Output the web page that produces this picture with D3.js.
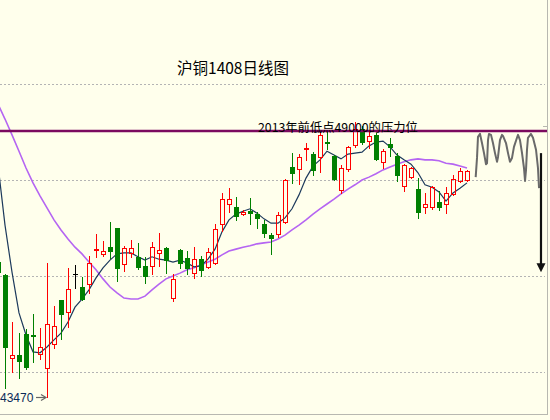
<!DOCTYPE html>
<html><head><meta charset="utf-8">
<script src="https://cdn.jsdelivr.net/npm/d3@7"></script>
<style>html,body{margin:0;padding:0;background:#ffffec;}svg{display:block;}</style>
</head><body><svg id="c" width="550" height="420"></svg>
<script>
const title = "沪铜1408日线图";
const noteText = "2013年前低点49000的压力位";
const lowLabel = "43470";
const resistance = 49000;
const lowPrice = 43470;
const gridValues = [50000, 48000, 46000, 44000];
// candle index (first one partially off the left edge)
const idx = d3.range(-1, 67);
const open  = [46290,46020,44290,44350,44790,44780,44380,44080,44580,45500,45250,46040,45770,45830,46540,46460,46600,47000,46250,46480,46400,46210,46210,46480,46580,45540,46540,46380,46060,46350,46190,46270,47080,47500,47440,47290,47350,47290,47080,46850,46880,47130,48270,48230,48650,48540,48480,48790,48500,47790,48230,48730,49060,48810,48940,48380,48750,48500,47880,48060,47810,47440,47440,47540,47500,47710,47980,48000];
const high  = [46380,46040,45040,44810,44900,45210,44920,46270,45380,45500,46170,46230,45980,46420,46880,46730,47130,47000,46630,46750,46690,46400,46710,46900,46600,46040,46560,46520,46600,46420,46580,47080,47730,47830,47650,47380,47630,47330,47170,46900,47330,48020,48560,48540,48770,48580,49000,49020,48520,48310,48710,49210,49130,49000,48980,48650,48880,48560,48330,48270,48040,47730,47880,47770,47850,48100,48250,48210];
const low   = [46000,43670,44000,43880,44060,44210,44270,43470,44500,44690,44940,45750,45500,45650,46400,46420,46380,45900,46100,46400,46150,45850,46040,46210,46060,45480,46170,46040,45960,46000,46170,46250,46940,47330,47170,47270,47080,47000,46810,46460,46810,47100,47940,47920,48420,48100,48170,48650,48000,47730,48190,48690,48750,48670,48420,48250,48500,47980,47770,48040,47210,47310,47400,47380,47310,47690,47960,47980];
const close = [46080,44520,44350,44230,44100,44760,44520,45000,44960,45210,45730,46040,45520,46270,46560,46520,46520,46170,46580,46580,46190,46000,46600,46540,46330,45940,46270,46170,46350,46130,46500,46980,47600,47600,47250,47330,47310,47210,46900,46790,47270,48000,48150,48480,48670,48210,48940,48770,48020,48250,48690,49060,48790,48920,48440,48600,48690,48100,48310,48250,47330,47500,47850,47440,47730,48020,48190,48190];
// short moving average (dark line) and long moving average (violet line)
const maShort = [48310,47060,46080,45230,44770,44420,44400,44520,44670,44810,45040,45350,45520,45710,45960,46170,46330,46460,46480,46480,46400,46330,46400,46350,46330,46290,46330,46270,46190,46210,46350,46560,46920,47170,47290,47350,47400,47310,47190,47100,47100,47210,47400,47690,48040,48290,48420,48600,48520,48440,48540,48560,48580,48710,48790,48810,48690,48520,48420,48330,48150,47900,47850,47750,47560,47730,47830,47940];
const maLong = [49580,49270,48940,48600,48250,47940,47670,47420,47170,46960,46770,46600,46460,46290,46130,45940,45770,45650,45540,45520,45520,45580,45710,45830,45940,46000,46060,46130,46170,46230,46290,46350,46440,46520,46560,46600,46630,46670,46690,46710,46770,46850,46960,47060,47170,47290,47400,47500,47600,47710,47810,47900,48000,48060,48130,48210,48270,48330,48380,48420,48440,48420,48420,48400,48350,48330,48290,48250];
// hand-drawn forecast squiggle (candle index, price)
const sqI = [67.24,67.43,67.57,67.86,68.14,68.43,68.71,68.86,69.0,69.14,69.43,69.71,70.0,70.29,70.43,70.71,71.0,71.14,71.57,71.86,72.14,72.43,72.71,73.14,73.29,73.57,73.86,74.14,74.29,74.43,74.57,74.71,75.14,75.43,75.86,76.14,76.29];
const sqP = [48060,48460,48900,48960,48770,48560,48330,48350,48830,48960,48940,48770,48560,48380,48480,48830,48940,48920,48770,48560,48380,48460,48690,48880,48940,48830,48560,48250,47980,48210,48630,48880,48960,48880,48630,48250,47830];
const arrowI = 76.57, arrowFrom = 48560, arrowTo = 46080;

const svg = d3.select("#c");
const W = 550, H = 420;
svg.append("rect").attr("width", W).attr("height", H).attr("fill", "#ffffec");

const x = d3.scaleLinear().domain([-1, 66]).range([-2, 467]);
const y = d3.scaleLinear().domain([44000, 50000]).range([372, 84]);
const px = v => Math.round(x(v));
const py = v => Math.round(y(v));

svg.append("defs").append("clipPath").attr("id", "plot")
  .append("rect").attr("x", 0).attr("y", 0).attr("width", 547).attr("height", 414);

// frame
svg.append("line").attr("x1", 0).attr("x2", 547.5).attr("y1", 414.5).attr("y2", 414.5).attr("stroke", "#b8b8b0");
svg.append("line").attr("x1", 547.5).attr("x2", 547.5).attr("y1", 0).attr("y2", 415).attr("stroke", "#b8b8b0");
svg.append("line").attr("x1", 543).attr("x2", 548).attr("y1", 126.5).attr("y2", 126.5).attr("stroke", "#b8b8b0");

// grid
svg.append("g").selectAll("line").data(gridValues).join("line")
  .attr("x1", 0).attr("x2", 545)
  .attr("y1", d => py(d) + 0.5).attr("y2", d => py(d) + 0.5)
  .attr("stroke", "#b4b4b4").attr("stroke-dasharray", "2,2");

// title
svg.append("text").attr("x", 233).attr("y", 74).attr("text-anchor", "middle")
  .attr("font-family", "'Noto Sans CJK SC', sans-serif").attr("font-size", 15.5)
  .attr("fill", "#000").text(title);

const g = svg.append("g").attr("clip-path", "url(#plot)");

// moving averages
const lineGen = d3.line().x((d, i) => x(idx[i])).y(d => y(d));
g.append("path").datum(maLong).attr("d", lineGen).attr("fill", "none")
  .attr("stroke", "#b565f2").attr("stroke-width", 1.6);
g.append("path").datum(maShort).attr("d", lineGen).attr("fill", "none")
  .attr("stroke", "#1d3a5c").attr("stroke-width", 1.2);

// candles
const candles = idx.map((d, i) => ({i: d, o: open[i], h: high[i], l: low[i], c: close[i]}));
const cg = g.append("g").selectAll("g").data(candles).join("g");
cg.each(function(d) {
  const s = d3.select(this);
  const cx = px(d.i);
  const top = py(Math.max(d.o, d.c)), bot = py(Math.min(d.o, d.c));
  const hi = py(d.h), lo = py(d.l);
  if (d.c > d.o) {
    const col = "#ff0000";
    if (hi < top) s.append("line").attr("x1", cx + 0.5).attr("x2", cx + 0.5).attr("y1", hi).attr("y2", top).attr("stroke", col);
    if (lo > bot) s.append("line").attr("x1", cx + 0.5).attr("x2", cx + 0.5).attr("y1", bot).attr("y2", lo + 1).attr("stroke", col);
    s.append("rect").attr("x", cx - 1.5).attr("y", top + 0.5).attr("width", 4).attr("height", Math.max(1, bot - top))
      .attr("fill", "none").attr("stroke", col).attr("stroke-width", 1);
  } else {
    const col = d.c < d.o ? "#008000" : "#000000";
    s.append("line").attr("x1", cx + 0.5).attr("x2", cx + 0.5).attr("y1", hi).attr("y2", lo + 1).attr("stroke", col);
    s.append("rect").attr("x", cx - 2).attr("y", top).attr("width", 5).attr("height", Math.max(1, bot - top + 1))
      .attr("fill", col);
  }
});

// resistance line
svg.append("line").attr("x1", 0).attr("x2", 547).attr("y1", y(resistance) - 1).attr("y2", y(resistance) - 1)
  .attr("stroke", "#7b0a5f").attr("stroke-width", 2.6);
svg.append("text").attr("x", 258).attr("y", 132)
  .attr("font-family", "'Noto Sans CJK SC', sans-serif").attr("font-size", 12.3)
  .attr("fill", "#000").text(noteText);

// low label
svg.append("text").attr("x", 0).attr("y", y(lowPrice) + 4.5)
  .attr("font-family", "'Liberation Sans', Arial, sans-serif").attr("font-size", 12)
  .attr("fill", "#0b2a58").text(lowLabel);
svg.append("line").attr("x1", 36).attr("x2", 45).attr("y1", py(lowPrice) + 0.5).attr("y2", py(lowPrice) + 0.5)
  .attr("stroke", "#666").attr("stroke-width", 1.2);
svg.append("path").attr("d", `M${41},${py(lowPrice) - 2.5} L${46},${py(lowPrice) + 0.5} L${41},${py(lowPrice) + 3.5}`)
  .attr("fill", "none").attr("stroke", "#666").attr("stroke-width", 1.2);

// squiggle forecast
const sq = sqI.map((v, i) => [x(v), y(sqP[i])]);
svg.append("path").attr("d", d3.line()(sq)).attr("fill", "none")
  .attr("stroke", "#6a6a6a").attr("stroke-width", 2).attr("stroke-linejoin", "round");
const ax = x(arrowI);
svg.append("line").attr("x1", ax).attr("x2", ax).attr("y1", y(arrowFrom)).attr("y2", y(arrowTo) - 6)
  .attr("stroke", "#111").attr("stroke-width", 2.2);
svg.append("path").attr("d", `M${ax - 4.5},${y(arrowTo) - 9} L${ax + 4.5},${y(arrowTo) - 9} L${ax},${y(arrowTo)} Z`)
  .attr("fill", "#111");
</script></body></html>
